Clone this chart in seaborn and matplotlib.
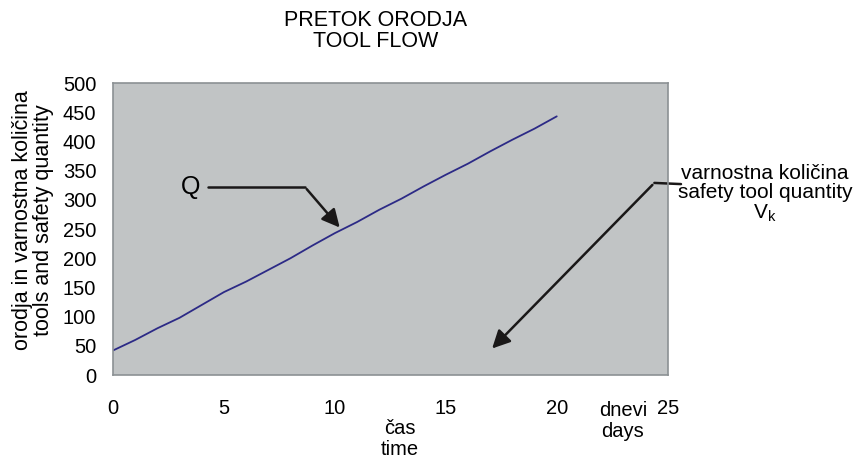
import matplotlib
matplotlib.use("Agg")
import matplotlib.pyplot as plt
import seaborn as sns
import pandas as pd

days = list(range(0, 21))
tools = [42, 60, 80, 98, 120, 142, 160, 180, 200, 222, 243, 262, 283, 302,
         323, 343, 362, 383, 403, 422, 443]
x_ticks = [0, 5, 10, 15, 20, 25]
y_ticks = [0, 50, 100, 150, 200, 250, 300, 350, 400, 450, 500]

sns.set_theme(style="white")
plt.rcParams['font.family'] = ['Liberation Sans', 'DejaVu Sans']
plt.rcParams['text.color'] = 'black'
plt.rcParams['axes.labelcolor'] = 'black'
plt.rcParams['xtick.color'] = 'black'
plt.rcParams['ytick.color'] = 'black'

fig = plt.figure(figsize=(8.56, 4.59), dpi=100)
ax = fig.add_axes([0.132, 0.183, 0.648, 0.636])
ax.set_facecolor("#c1c4c5")

df = pd.DataFrame({"day": days, "q": tools})
sns.lineplot(data=df, x="day", y="q", ax=ax, color="#2c2a86", linewidth=1.3)

ax.set_xlim(0, 25)
ax.set_ylim(0, 500)
ax.set_xticks(x_ticks)
ax.set_yticks(y_ticks)
ax.tick_params(axis="x", labelsize=14.5, pad=17, length=0)
ax.tick_params(axis="y", labelsize=14.5, pad=12, length=0)
for s in ax.spines.values():
    s.set_color("#8c9194")
    s.set_linewidth(1.2)

ax.set_xlabel("")
ax.set_ylabel("")
fig.text(33 / 856, 1 - 220 / 459, "orodja in varnostna količina\ntools and safety quantity",
         rotation=90, ha="center", va="center", fontsize=15.5, linespacing=1.0)

fig.text(376 / 856, 1 - 31 / 459, "PRETOK ORODJA\nTOOL FLOW", ha="center", va="center",
         fontsize=15.5, linespacing=1.05)
fig.text(400 / 856, 1 - 439 / 459, "čas\ntime", ha="center", va="center", fontsize=14.5, linespacing=1.1)
fig.text(623 / 856, 1 - 421 / 459, "dnevi\ndays", ha="center", va="center", fontsize=14.5, linespacing=1.1)

# Q annotation
ax.text(3.5, 322, "Q", fontsize=18, ha="center", va="center")
ax.plot([4.3, 8.65], [322, 322], color="#1a1818", lw=1.8)
ax.annotate("", xy=(10.3, 249), xytext=(8.65, 322),
            arrowprops=dict(arrowstyle="-|>,head_length=0.9,head_width=0.45", color="#1a1818", lw=1.8))

# Vk annotation
ax.plot([24.4, 25.6], [329, 327], color="#1a1818", lw=1.8, clip_on=False)
ax.annotate("", xy=(17.0, 42), xytext=(24.4, 329),
            arrowprops=dict(arrowstyle="-|>,head_length=0.9,head_width=0.45", color="#1a1818", lw=1.8))
fig.text(765 / 856, 1 - 183 / 459, "varnostna količina\nsafety tool quantity", ha="center", va="center",
         fontsize=15, linespacing=1.0)
fig.text(765 / 856, 1 - 213 / 459, r"V$_{\mathregular{k}}$", ha="center", va="center", fontsize=15)

fig.savefig("out.png", dpi=100)
